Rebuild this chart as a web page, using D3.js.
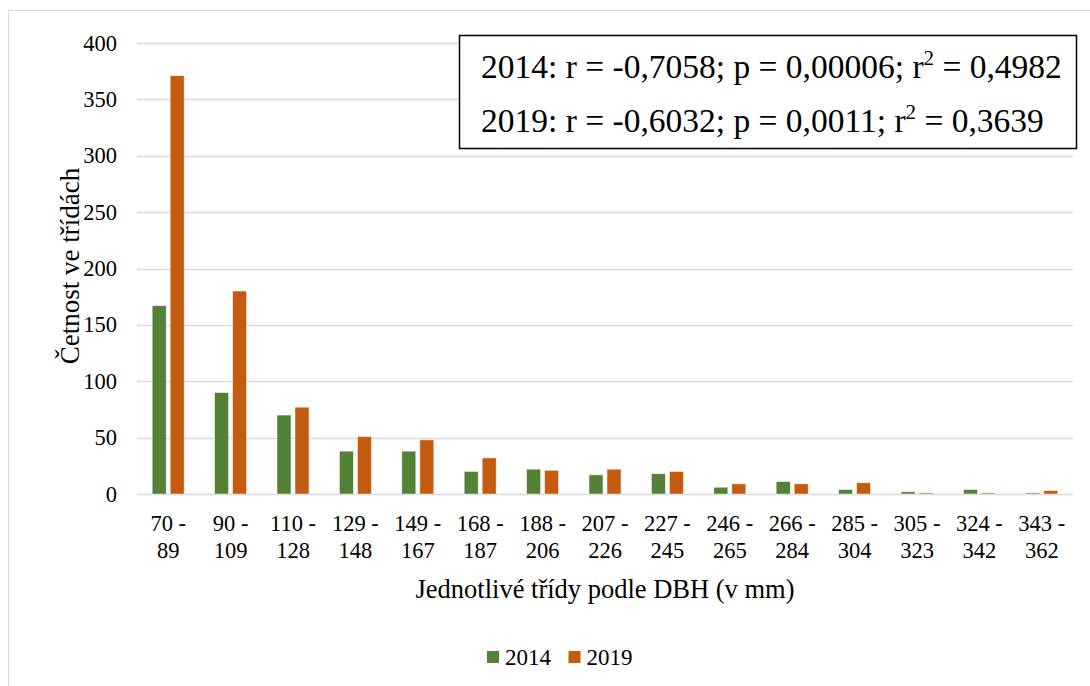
<!DOCTYPE html>
<html>
<head>
<meta charset="utf-8">
<script src="https://cdnjs.cloudflare.com/ajax/libs/d3/7.8.5/d3.min.js"></script>
<style>
  body { margin: 0; background: #fff; }
</style>
</head>
<body>
<div id="chart"></div>
<script>
// classes of DBH (two-line labels)
var classTop = ["70 -", "90 -", "110 -", "129 -", "149 -", "168 -", "188 -", "207 -", "227 -", "246 -", "266 -", "285 -", "305 -", "324 -", "343 -"];
var classBottom = ["89", "109", "128", "148", "167", "187", "206", "226", "245", "265", "284", "304", "323", "342", "362"];
var values2014 = [167, 90, 70, 38, 38, 20, 22, 17, 18, 6, 11, 4, 2, 4, 1];
var values2019 = [371, 180, 77, 51, 48, 32, 21, 22, 20, 9, 9, 10, 1, 1, 3];
var seriesNames = ["2014", "2019"];
var yTicks = [0, 50, 100, 150, 200, 250, 300, 350, 400];
var statLines = [
    {pre: "2014: r = -0,7058; p = 0,00006; r", post: " = 0,4982"},
    {pre: "2019: r = -0,6032; p = 0,0011; r", post: " = 0,3639"}
];

var W = 1090, H = 686;
var margin = {left: 137, right: 17, top: 43, bottom: 192};
var colors = {"2014": "#538135", "2019": "#c55a11"};
var serif = "'Liberation Serif', 'Times New Roman', 'DejaVu Serif', serif";

var svg = d3.select("#chart").append("svg")
    .attr("width", W).attr("height", H)
    .style("font-family", serif);

// outer frame
svg.append("rect")
    .attr("x", 8.5).attr("y", 10.5)
    .attr("width", W + 20).attr("height", H + 20)
    .attr("fill", "none").attr("stroke", "#d9d9d9").attr("stroke-width", 1);

var x = d3.scaleBand()
    .domain(d3.range(classTop.length))
    .range([margin.left, W - margin.right]);

var y = d3.scaleLinear()
    .domain([0, 400])
    .range([H - margin.bottom, margin.top]);

// grid
svg.append("g")
    .selectAll("line")
    .data(yTicks)
    .enter().append("line")
    .attr("x1", margin.left).attr("x2", W - margin.right)
    .attr("y1", d => Math.round(y(d)) + 0.5).attr("y2", d => Math.round(y(d)) + 0.5)
    .attr("stroke", "#d9d9d9").attr("stroke-width", 1.3);

// y tick labels
svg.append("g")
    .selectAll("text")
    .data(yTicks)
    .enter().append("text")
    .attr("x", 117)
    .attr("y", d => y(d) + 7.5)
    .attr("text-anchor", "end")
    .style("font-family", serif)
    .style("font-size", "22.5px")
    .text(d => d);

// bars
var barW = 14, gap = 4;
var groups = svg.append("g").selectAll("g")
    .data(d3.range(classTop.length))
    .enter().append("g")
    .attr("transform", i => "translate(" + (x(i) + x.bandwidth() / 2) + ",0)");

groups.append("rect")
    .attr("x", -gap / 2 - barW)
    .attr("width", barW)
    .attr("y", i => y(values2014[i]))
    .attr("height", i => y(0) - y(values2014[i]))
    .attr("fill", colors["2014"])
    .attr("stroke", "#fff").attr("stroke-opacity", 0.6).attr("stroke-width", 0.8);

groups.append("rect")
    .attr("x", gap / 2)
    .attr("width", barW)
    .attr("y", i => y(values2019[i]))
    .attr("height", i => y(0) - y(values2019[i]))
    .attr("fill", colors["2019"])
    .attr("stroke", "#fff").attr("stroke-opacity", 0.6).attr("stroke-width", 0.8);

// x tick labels
groups.append("text")
    .attr("y", 531)
    .attr("text-anchor", "middle")
    .style("font-family", serif)
    .style("font-size", "22.5px")
    .text(i => classTop[i]);
groups.append("text")
    .attr("y", 558)
    .attr("text-anchor", "middle")
    .style("font-family", serif)
    .style("font-size", "22.5px")
    .text(i => classBottom[i]);

// axis titles
svg.append("text")
    .attr("x", 605)
    .attr("y", 598)
    .attr("text-anchor", "middle")
    .style("font-family", serif)
    .style("font-size", "26.5px")
    .text("Jednotlivé třídy podle DBH (v mm)");

svg.append("text")
    .attr("transform", "translate(79,266) rotate(-90)")
    .attr("text-anchor", "middle")
    .style("font-family", serif)
    .style("font-size", "27px")
    .text("Četnost ve třídách");

// stats box
svg.append("rect")
    .attr("x", 459.5).attr("y", 35.5)
    .attr("width", 617).attr("height", 113)
    .attr("fill", "#fff").attr("stroke", "#000").attr("stroke-width", 1.5);

var st = svg.append("g").selectAll("text")
    .data(statLines)
    .enter().append("text")
    .attr("x", 481)
    .attr("y", (d, i) => 78 + i * 54)
    .style("font-family", serif)
    .style("font-size", "33.5px");
st.append("tspan").text(d => d.pre);
st.append("tspan").attr("dy", -13).style("font-size", "21px").text("2");
st.append("tspan").attr("dy", 13).text(d => d.post);

// legend
var leg = svg.append("g").selectAll("g")
    .data(seriesNames)
    .enter().append("g")
    .attr("transform", (d, i) => "translate(" + (487 + i * 81.5) + ",651)");
leg.append("rect")
    .attr("x", 0).attr("y", 0).attr("width", 12).attr("height", 12)
    .attr("fill", d => colors[d]);
leg.append("text")
    .attr("x", 18).attr("y", 14)
    .style("font-family", serif)
    .style("font-size", "23px")
    .text(d => d);
</script>
</body>
</html>
